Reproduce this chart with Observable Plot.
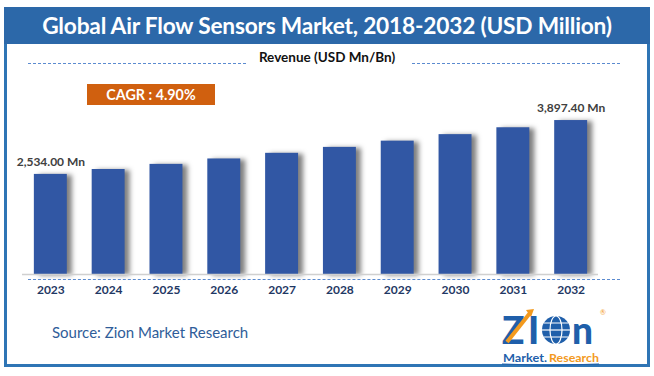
<!DOCTYPE html>
<html>
<head>
<meta charset="utf-8">
<script src="https://cdn.jsdelivr.net/npm/d3@7"></script>
<script src="https://cdn.jsdelivr.net/npm/@observablehq/plot@0.6"></script>
<style>
  html, body { margin: 0; padding: 0; background: #fff; }
  #wrap { position: relative; width: 654px; height: 376px; overflow: hidden; background: #fff; font-family: Lato, "Open Sans", sans-serif; }
  #frame { position: absolute; left: 4px; top: 7px; width: 640px; height: 357px; border: 3px solid #2F75B5; border-top: none; }
  #banner { position: absolute; left: 4px; top: 7px; width: 646px; height: 37px; background: #2C68A9; color: #fff; font-weight: bold; font-size: 22.7px; text-align: center; line-height: 37px; letter-spacing: -0.2px; }
  #rev { position: absolute; left: 0; top: 49px; width: 654px; text-align: center; font-size: 13.5px; font-weight: bold; color: #111; }
  .dash { position: absolute; border-top: 1px dashed #5B8BD0; height: 0; }
  #cagr { position: absolute; left: 87px; top: 84px; width: 128px; height: 21px; background: #D0600F; color: #fff; font-weight: bold; font-size: 14.3px; text-align: center; line-height: 21px; }
  #source { position: absolute; left: 52px; top: 323px; font-size: 15px; color: #2F5D99; }
  #plot { position: absolute; left: 0; top: 0; }
  #logo { position: absolute; left: 500px; top: 306px; width: 110px; height: 60px; }
</style>
</head>
<body>
<div id="wrap">
  <div id="plot"></div>
  <div id="frame"></div>
  <div id="banner">Global Air Flow Sensors Market, 2018-2032 (USD Million)</div>
  <div class="dash" style="left:28px; top:63px; width:218px;"></div>
  <div id="rev">Revenue (USD Mn/Bn)</div>
  <div class="dash" style="left:412px; top:63px; width:208px;"></div>
  <div id="cagr">CAGR : 4.90%</div>
  <div class="dash" style="left:28px; top:279px; width:592px;"></div>
  <div id="source">Source: Zion Market Research</div>
  <svg id="logo" viewBox="0 0 110 60">
    <text x="2" y="38" font-family="Lato, sans-serif" font-weight="900" font-size="37" fill="#1F5FAA">Z</text>
    <line x1="7" y1="36" x2="30" y2="7" stroke="#F39A1E" stroke-width="4"/>
    <polygon points="26,4 34,3 31,11" fill="#F39A1E"/>
    <text x="28" y="38" font-family="Lato, sans-serif" font-weight="900" font-size="37" fill="#1F5FAA">I</text>
    <circle cx="56" cy="24" r="14" fill="#1F5FAA"/>
    <ellipse cx="56" cy="24" rx="6" ry="14" fill="none" stroke="#fff" stroke-width="1.2"/>
    <line x1="42" y1="24" x2="70" y2="24" stroke="#fff" stroke-width="1.2"/>
    <line x1="44" y1="17" x2="68" y2="17" stroke="#fff" stroke-width="1"/>
    <line x1="44" y1="31" x2="68" y2="31" stroke="#fff" stroke-width="1"/>
    <text x="72" y="38" font-family="Lato, sans-serif" font-weight="900" font-size="37" fill="#1F5FAA">n</text>
    <text x="100" y="9" font-family="Lato, sans-serif" font-size="7" fill="#F39A1E">®</text>
    <text x="3" y="56" font-family="Lato, sans-serif" font-weight="bold" font-size="11.5" fill="#1F5FAA" textLength="44" lengthAdjust="spacingAndGlyphs">Market.</text>
    <text x="49" y="56" font-family="Lato, sans-serif" font-weight="bold" font-size="11.5" fill="#F39A1E" textLength="50" lengthAdjust="spacingAndGlyphs">Research</text>
    <path d="M2,58 Q50,61 99,58" stroke="#1F5FAA" stroke-width="1" fill="none"/>
  </svg>
</div>
<script>
const years = ["2023","2024","2025","2026","2027","2028","2029","2030","2031","2032"];
const revenue = [2534.0, 2658, 2788, 2925, 3068, 3218, 3376, 3541, 3715, 3897.4];
const labelYears = ["2023", "2032"];
const labelTexts = ["2,534.00 Mn", "3,897.40 Mn"];

const data = years.map((y, i) => ({year: y, value: revenue[i]}));
const labels = labelYears.map((y, i) => ({year: y, value: revenue[years.indexOf(y)], text: labelTexts[i]}));

const chart = Plot.plot({
  width: 654,
  height: 376,
  marginLeft: 9,
  marginRight: 42,
  marginTop: 116,
  marginBottom: 102,
  style: {background: "transparent", fontFamily: "Lato, sans-serif", overflow: "visible"},
  x: {domain: years, padding: 0.43, round: false, label: null, tickSize: 0, tickPadding: 11},
  y: {domain: [0, 4000], axis: null},
  marks: [
    Plot.barY(data, {x: "year", y: "value", fill: "#3157A4", ariaLabel: "revenue bars"}),
    Plot.ruleY([0], {stroke: "#d0d0d0", strokeWidth: 1.5, insetLeft: 13, insetRight: 14}),
    Plot.text(labels, {x: "year", y: "value", text: "text", dy: -12, fontSize: 12, fontWeight: "bold", fill: "#404040"})
  ]
});
d3.select(chart).selectAll("g[aria-label='revenue bars'], g[aria-label='bar']")
  .style("filter", "drop-shadow(5px 1px 2.5px rgba(0,0,0,0.5))");
d3.select(chart).selectAll("g[aria-label='x-axis tick label'] text, g[aria-label='x-axis tick label']")
  .attr("font-size", 12).attr("font-weight", "bold").attr("fill", "#1F3864");
d3.select(chart).select("g[aria-label='x-axis tick label']").style("font-family", "'Liberation Sans Narrow', Lato, sans-serif");
document.getElementById("plot").appendChild(chart);
</script>
</body>
</html>
